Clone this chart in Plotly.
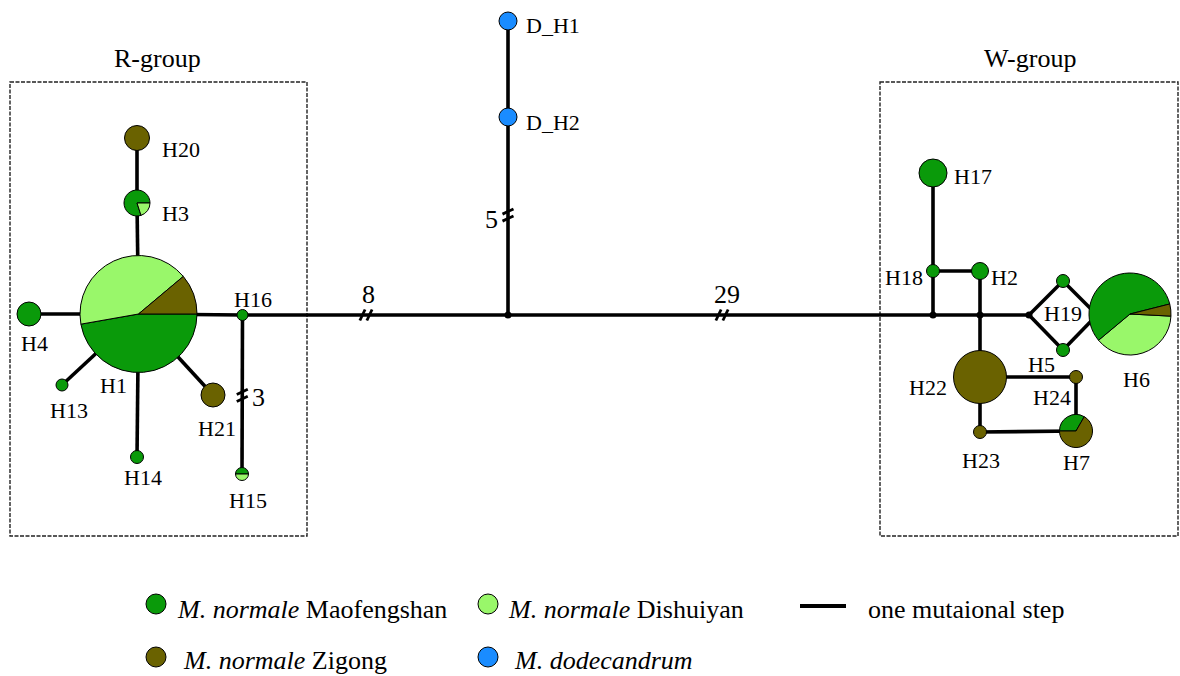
import math
import plotly.graph_objects as go

# ---------------- data ----------------
POPULATIONS = ["Maofengshan", "Dishuiyan", "Zigong", "dodecandrum"]
LEGEND_TEXT = [
    "<i>M. normale</i> Maofengshan",
    "<i>M. normale</i> Dishuiyan",
    "<i>M. normale</i> Zigong",
    "<i>M. dodecandrum</i>",
]

HAPLOTYPES = ["H1", "H2", "H3", "H4", "H5", "H6", "H7", "H13", "H14", "H15", "H16",
              "H17", "H18", "H19", "H20", "H21", "H22", "H23", "H24", "D_H1", "D_H2"]
# individuals per population carrying each haplotype
MAOFENGSHAN = [17, 1, 4, 2, 1, 12, 1, 1, 1, 1, 1, 2, 1, 1, 0, 0, 0, 0, 0, 0, 0]
DISHUIYAN   = [15, 0, 1, 0, 0, 8, 0, 0, 0, 1, 0, 0, 0, 0, 0, 0, 0, 0, 0, 0, 0]
ZIGONG      = [4, 0, 0, 0, 0, 1, 2, 0, 0, 0, 0, 0, 0, 0, 2, 2, 7, 1, 1, 0, 0]
DODECANDRUM = [0, 0, 0, 0, 0, 0, 0, 0, 0, 0, 0, 0, 0, 0, 0, 0, 0, 0, 0, 1, 1]

MEDIAN_VECTORS = ["mv0", "mv1", "mv2", "mv3"]

# network links; the last item is the number of mutational steps shown on a break
LINKS = [
    ("H20", "H3", None), ("H3", "H1", None), ("H1", "H4", None), ("H1", "H13", None),
    ("H1", "H14", None), ("H1", "H21", None), ("H1", "H16", None),
    ("H16", "H15", "3"), ("H16", "mv0", "8"), ("mv0", "D_H2", "5"), ("D_H2", "D_H1", None),
    ("mv0", "mv1", "29"), ("mv1", "H18", None), ("H18", "H17", None), ("H18", "H2", None),
    ("mv1", "mv2", None), ("mv2", "H2", None), ("mv2", "H22", None), ("mv2", "mv3", None),
    ("mv3", "H19", None), ("mv3", "H5", None), ("H19", "h6port", None), ("H5", "h6port", None),
    ("H22", "H24", None), ("H24", "H7", None), ("H22", "H23", None), ("H23", "H7", None),
]

# ---------------- layout of the network (pixel space) ----------------
W, H = 1180, 676
COLORS = {"Maofengshan": "#0a9a0a", "Dishuiyan": "#99f76a",
          "Zigong": "#6a6200", "dodecandrum": "#1a8cff"}

POS = {
    "H1": (138.5, 314), "H3": (137, 203), "H20": (137, 138), "H4": (29, 314),
    "H13": (62, 385), "H14": (137, 457), "H21": (213, 395), "H16": (242.5, 315),
    "H15": (242, 474), "mv0": (508, 315), "D_H2": (508, 117), "D_H1": (508, 21),
    "mv1": (933, 315), "H18": (933, 271), "H17": (933, 173), "H2": (980, 271),
    "mv2": (980, 315), "H22": (980, 377), "mv3": (1029, 315), "H19": (1063, 281),
    "H5": (1063, 350), "h6port": (1097, 315), "H6": (1130, 314), "H24": (1076, 377),
    "H23": (980, 432), "H7": (1076, 431),
}
DIAM = {
    "H1": 117, "H3": 26, "H20": 25, "H4": 24, "H13": 12, "H14": 13, "H21": 24,
    "H16": 11, "H15": 13, "D_H2": 18, "D_H1": 18, "H18": 13, "H17": 28, "H2": 17,
    "H22": 53, "H19": 13, "H5": 13, "H6": 82, "H24": 13, "H23": 13, "H7": 33,
}
# slice order (clockwise) and start angle (clockwise from 12 o'clock) of pie nodes
PIE_STYLE = {
    "H1": (["Maofengshan", "Dishuiyan", "Zigong"], 90),
    "H3": (["Maofengshan", "Dishuiyan"], 162),
    "H6": (["Dishuiyan", "Maofengshan", "Zigong"], 93),
    "H7": (["Maofengshan", "Zigong"], 270),
    "H15": (["Maofengshan", "Dishuiyan"], 270),
}
LABEL_POS = {
    "H20": (180.5, 149), "H3": (175, 213.5), "H16": (252.5, 299), "H4": (34.5, 343),
    "H1": (113, 385), "H13": (69, 410), "H21": (216.5, 428), "H14": (143, 477.5),
    "H15": (248, 500), "H17": (973, 176), "H18": (904, 277), "H2": (1004.5, 277),
    "H19": (1062.5, 313), "H5": (1041.5, 364), "H6": (1136, 379), "H22": (927.5, 387),
    "H24": (1052, 397), "H23": (981, 460.5), "H7": (1076, 462.5),
}
DH_LABEL_POS = {"D_H1": (524, 25), "D_H2": (524, 122)}
BREAK_AT = {"3": 0.506, "8": 0.465, "5": 0.505, "29": 0.5035}
BREAK_LABEL_POS = {"3": (258, 397.5), "8": (368, 294), "5": (491, 219), "29": (727, 294)}

FONT = "Liberation Serif, Times New Roman, serif"
EDGE_W = 3.6

fig = go.Figure()

# links
for a, b, steps in LINKS:
    (x0, y0), (x1, y1) = POS[a], POS[b]
    fig.add_trace(go.Scatter(x=[x0, x1], y=[y0, y1], mode="lines",
                             line=dict(color="black", width=EDGE_W),
                             hoverinfo="skip", showlegend=False))
    if steps:
        t = BREAK_AT[steps]
        bx, by = x0 + (x1 - x0) * t, y0 + (y1 - y0) * t
        L = math.hypot(x1 - x0, y1 - y0)
        ux, uy = (x1 - x0) / L, (y1 - y0) / L
        horizontal = abs(ux) > abs(uy)
        dx, dy = (2.6, -5.5) if horizontal else (5.5, -2.6)
        for off in (-3.5, 3.5):
            cx, cy = bx + ux * off, by + uy * off
            fig.add_trace(go.Scatter(x=[cx - dx, cx + dx], y=[cy - dy, cy + dy], mode="lines",
                                     line=dict(color="black", width=2.8),
                                     hoverinfo="skip", showlegend=False))
        lx, ly = BREAK_LABEL_POS[steps]
        fig.add_annotation(x=lx, y=ly, text=steps, showarrow=False,
                           font=dict(family=FONT, size=26, color="black"))

# median vectors
fig.add_trace(go.Scatter(x=[POS[m][0] for m in MEDIAN_VECTORS],
                         y=[POS[m][1] for m in MEDIAN_VECTORS], mode="markers",
                         marker=dict(size=7, color="black"), hoverinfo="skip", showlegend=False))

# haplotype nodes
for i, hap in enumerate(HAPLOTYPES):
    counts = dict(zip(POPULATIONS, [MAOFENGSHAN[i], DISHUIYAN[i], ZIGONG[i], DODECANDRUM[i]]))
    x, y = POS[hap]
    d = DIAM[hap]
    if hap in PIE_STYLE:
        order, rot = PIE_STYLE[hap]
        r = d / 2
        fig.add_trace(go.Pie(
            values=[counts[p] for p in order], labels=order, sort=False,
            direction="clockwise", rotation=rot, textinfo="none", hoverinfo="label+value",
            marker=dict(colors=[COLORS[p] for p in order], line=dict(color="black", width=1)),
            domain=dict(x=[(x - r) / W, (x + r) / W], y=[1 - (y + r) / H, 1 - (y - r) / H]),
            showlegend=False))
    else:
        pop = max(counts, key=counts.get)
        fig.add_trace(go.Scatter(x=[x], y=[y], mode="markers",
                                 marker=dict(size=d, color=COLORS[pop],
                                             line=dict(color="black", width=1)),
                                 name=hap, hoverinfo="name", showlegend=False))

# haplotype labels
for hap, (lx, ly) in LABEL_POS.items():
    fig.add_annotation(x=lx, y=ly, text=hap, showarrow=False,
                       font=dict(family=FONT, size=22, color="black"))
for hap, (lx, ly) in DH_LABEL_POS.items():
    fig.add_annotation(x=lx, y=ly, text=hap, showarrow=False, xanchor="left",
                       font=dict(family=FONT, size=22, color="black"))

# group boxes
for (x0, x1), name, cx in [((10, 307), "R-group", 157), ((880, 1178), "W-group", 1030)]:
    fig.add_shape(type="rect", x0=x0, x1=x1, y0=82, y1=536, layer="below",
                  line=dict(color="#222222", width=1.4, dash="4px,1.5px"))
    fig.add_annotation(x=cx, y=58, text=name, showarrow=False,
                       font=dict(family=FONT, size=26, color="black"))

# legend
LEG_MARK = [(156, 604), (488, 604), (156, 657), (488, 657)]
LEG_TEXT = [(175, 609), (506, 609), (181, 660), (512, 660)]
for pop, label, (mx, my), (tx, ty) in zip(POPULATIONS, LEGEND_TEXT, LEG_MARK, LEG_TEXT):
    fig.add_trace(go.Scatter(x=[mx], y=[my], mode="markers",
                             marker=dict(size=20, color=COLORS[pop],
                                         line=dict(color="black", width=1)),
                             hoverinfo="skip", showlegend=False))
    fig.add_annotation(x=tx, y=ty, text=label, showarrow=False, xanchor="left",
                       font=dict(family=FONT, size=26, color="black"))
fig.add_trace(go.Scatter(x=[800, 846], y=[606, 606], mode="lines",
                         line=dict(color="black", width=4), hoverinfo="skip", showlegend=False))
fig.add_annotation(x=866, y=609, text="one mutaional step", showarrow=False, xanchor="left",
                   font=dict(family=FONT, size=26, color="black"))

fig.update_layout(
    width=W, height=H, margin=dict(l=0, r=0, t=0, b=0),
    paper_bgcolor="white", plot_bgcolor="white",
    xaxis=dict(range=[0, W], visible=False, fixedrange=True),
    yaxis=dict(range=[H, 0], visible=False, fixedrange=True),
)

fig.write_html("out.html")
